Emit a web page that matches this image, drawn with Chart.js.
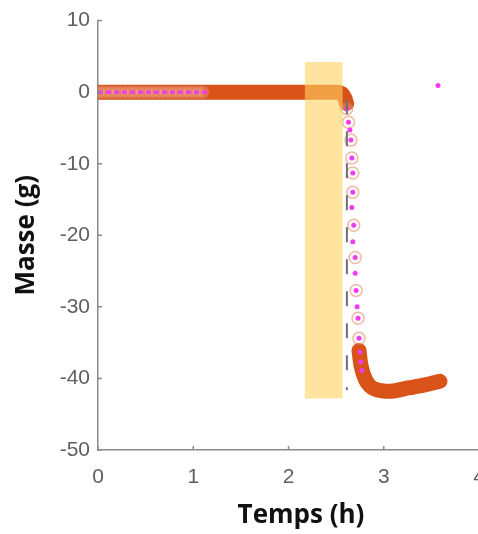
<!DOCTYPE html>
<html>
<head>
<meta charset="utf-8">
<script src="https://cdn.jsdelivr.net/npm/chart.js@4.4.1/dist/chart.umd.min.js"></script>
<style>
  html, body { margin: 0; padding: 0; background: #fff; overflow: hidden; }
  #wrap { width: 520px; height: 534px; }
</style>
</head>
<body>
<div id="wrap"><canvas id="c" width="520" height="534"></canvas></div>
<script>
// ---- data ----
// thick measured mass curve (null = gap during the fast drop)
const massX = [0, 2.50, 2.56, 2.59, 2.61, 2.68, 2.74, 2.76, 2.81, 2.91, 3.06, 3.27, 3.43, 3.59];
const massY = [0, 0, -0.2, -0.8, -1.6, null, -36.1, -38.1, -40.2, -41.5, -41.8, -41.3, -40.9, -40.4];

// open circles
const circleX = [0, 0.05, 0.10, 0.15, 0.20, 0.25, 0.30, 0.35, 0.40, 0.45, 0.50, 0.55, 0.60, 0.65, 0.70, 0.75, 0.80, 0.85, 0.90, 0.95, 1.00, 1.05, 1.10,
                 2.61, 2.63, 2.655, 2.665, 2.675, 2.675, 2.685, 2.70, 2.71, 2.73, 2.74];
const circleY = [0, 0, 0, 0, 0, 0, 0, 0, 0, 0, 0, 0, 0, 0, 0, 0, 0, 0, 0, 0, 0, 0, 0,
                 -2.3, -4.2, -6.7, -9.2, -11.3, -14.0, -18.6, -23.1, -27.7, -31.6, -34.4];

// magenta dotted series
const pinkFlatX = [0, 1.15];
const pinkFlatY = [0, 0];
const pinkDotX = [2.61, 2.63, 2.645, 2.655, 2.665, 2.675, 2.665, 2.675, 2.675, 2.685, 2.70, 2.70, 2.71, 2.72, 2.73, 2.74, 2.75, 2.76, 2.77, 3.57];
const pinkDotY = [-2.3, -4.2, -5.3, -6.7, -9.2, -11.3, -16.1, -14.0, -20.9, -18.6, -23.1, -25.3, -27.7, -30.0, -31.6, -34.4, -36.3, -37.7, -38.9, 0.93];

// grey dashed vertical marker
const dashX = [2.613, 2.613];
const dashY = [-1, -41.6];

// highlighted time window (yellow band)
const bandX = [2.17, 2.57];
const bandTop = 4.2;
const bandBottom = -42.8;

// axes
const xTicks = [0, 1, 2, 3, 4];
const yTicks = [-50, -40, -30, -20, -10, 0, 10];

const pts = (xs, ys) => xs.map((x, i) => ({ x: x, y: ys[i] }));

const innerTicks = {
  id: 'innerTicks',
  afterDraw(chart) {
    const ctx = chart.ctx, a = chart.chartArea;
    const xs = chart.scales.x, ys = chart.scales.y;
    ctx.save();
    ctx.strokeStyle = '#8a8a8a';
    ctx.lineWidth = 1.5;
    ctx.beginPath();
    yTicks.forEach(v => { const p = ys.getPixelForValue(v); ctx.moveTo(a.left, p); ctx.lineTo(a.left + 4, p); });
    xTicks.forEach(v => { const p = xs.getPixelForValue(v); ctx.moveTo(p, a.bottom); ctx.lineTo(p, a.bottom - 4); });
    ctx.stroke();
    // x axis title
    ctx.fillStyle = '#111';
    ctx.font = 'bold 26px "Open Sans"';
    ctx.textAlign = 'center';
    ctx.textBaseline = 'alphabetic';
    ctx.fillText('Temps (h)', 301, 523);
    ctx.restore();
  }
};

new Chart(document.getElementById('c'), {
  type: 'line',
  data: {
    datasets: [
      { data: pts(bandX, [bandTop, bandTop]), borderWidth: 0, pointRadius: 0,
        backgroundColor: 'rgba(255,210,97,0.6)', fill: { value: bandBottom }, order: 0 },
      { data: pts(dashX, dashY), borderColor: '#707070', borderWidth: 2, borderDash: [15, 17],
        pointRadius: 0, fill: false, order: 1 },
      { data: pts(pinkFlatX, pinkFlatY), borderColor: '#f03cf0', borderWidth: 3.5, borderDash: [5, 3],
        pointRadius: 0, fill: false, order: 2 },
      { data: pts(pinkDotX, pinkDotY), showLine: false, pointRadius: 2.5, pointBorderWidth: 0,
        pointBackgroundColor: '#f03cf0', order: 3 },
      { data: pts(circleX, circleY), showLine: false, pointRadius: 6, pointBorderWidth: 1.5,
        pointBorderColor: 'rgba(225,120,80,0.5)', pointBackgroundColor: 'rgba(255,235,220,0.2)', order: 4 },
      { data: pts(massX, massY), borderColor: '#d95319', borderWidth: 15, borderCapStyle: 'round',
        borderJoinStyle: 'round', cubicInterpolationMode: 'monotone', spanGaps: false,
        pointRadius: 0, fill: false, order: 5 }
    ]
  },
  options: {
    responsive: false,
    animation: false,
    devicePixelRatio: 1,
    layout: { padding: { top: 20, right: 41, bottom: 0, left: 0 } },
    plugins: { legend: { display: false }, tooltip: { enabled: false } },
    elements: { point: { hoverRadius: 0 } },
    scales: {
      x: {
        type: 'linear', min: 0, max: 4,
        afterFit(s) { s.height = 84; },
        afterBuildTicks(s) { s.ticks = xTicks.map(v => ({ value: v })); },
        grid: { drawOnChartArea: false, drawTicks: false },
        border: { color: '#8a8a8a', width: 1.5 },
        ticks: { padding: 15, color: '#5f5f5f', font: { family: 'Liberation Sans', size: 21 } }
      },
      y: {
        min: -50, max: 10,
        afterFit(s) { s.width = 98; },
        afterBuildTicks(s) { s.ticks = yTicks.map(v => ({ value: v })); },
        grid: { drawOnChartArea: false, drawTicks: false },
        border: { color: '#8a8a8a', width: 1.5 },
        ticks: { padding: 8, color: '#5f5f5f', font: { family: 'Liberation Sans', size: 21 } },
        title: { display: true, text: 'Masse (g)', color: '#111', padding: { top: 11, bottom: 0 },
                 font: { family: 'Open Sans', size: 26, weight: 'bold' } }
      }
    }
  },
  plugins: [innerTicks]
});
</script>
</body>
</html>
